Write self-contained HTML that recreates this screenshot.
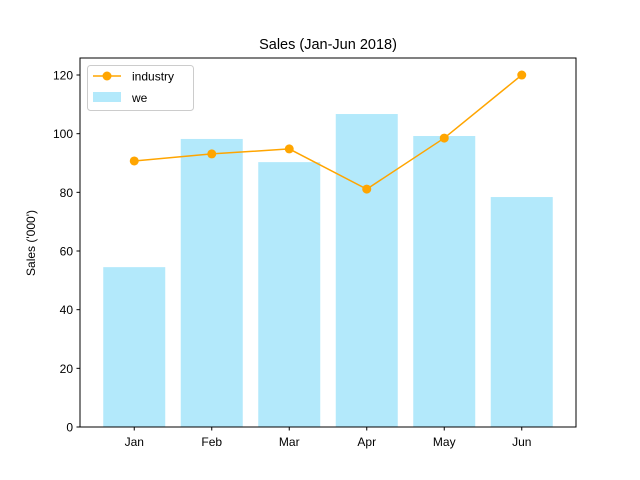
<!DOCTYPE html>
<html><head><meta charset="utf-8"><style>body{margin:0;background:#fff}svg{display:block;font-family:"Liberation Sans","DejaVu Sans",sans-serif}</style></head>
<body>
<svg id="chart" width="640" height="480">
<rect x="0" y="0" width="640" height="480" fill="#fff"/>
<text x="328" y="49" font-size="14.5" text-anchor="middle">Sales (Jan-Jun 2018)</text>
<g id="bars"></g><g id="line"></g><g id="axes"></g>
<text transform="translate(35,243) rotate(-90)" font-size="12" text-anchor="middle">Sales ('000')</text>
<g>
<rect x="87.5" y="65.5" width="106" height="45" rx="3" fill="#fff" stroke="#ccc"/>
<line x1="93" y1="76" x2="121" y2="76" stroke="orange" stroke-width="1.5"/>
<circle cx="107" cy="76" r="4.5" fill="orange"/>
<text x="132" y="80.5" font-size="12">industry</text>
<rect x="93" y="92" width="28" height="10" fill="#b3e9fb"/>
<text x="132" y="102" font-size="12">we</text>
</g>
</svg>
<script>
const categories=["Jan","Feb","Mar","Apr","May","Jun"];
const weValues=[54.5,98.2,90.3,106.7,99.2,78.4];
const industryValues=[90.7,93.1,94.8,81.1,98.5,120];
const yTicks=[0,20,40,60,80,100,120];
const L=80,R=576,T=58,B=427,yMax=125.8;
const xS=i=>L+(i+0.7)*(R-L)/6.4;
const yS=v=>B-v*(B-T)/yMax;
const ns="http://www.w3.org/2000/svg";
function mk(p,t,a){const e=document.createElementNS(ns,t);for(const k in a)e.setAttribute(k,a[k]);p.appendChild(e);return e;}
const bw=0.8*(R-L)/6.4;
const gb=document.getElementById('bars');
weValues.forEach((v,i)=>{const r=mk(gb,'rect',{x:xS(i)-bw/2,y:yS(v),width:bw,height:B-yS(v),fill:'#b3e9fb'});

});
const gl=document.getElementById('line');
const pl=mk(gl,'polyline',{points:industryValues.map((v,i)=>xS(i)+','+yS(v)).join(' '),fill:'none',stroke:'orange','stroke-width':1.5});


industryValues.forEach((v,i)=>{const c=mk(gl,'circle',{cx:xS(i),cy:yS(v),r:4.5,fill:'orange'});

});
const ga=document.getElementById('axes');
const fr=mk(ga,'rect',{x:L,y:T,width:R-L,height:B-T,fill:'none',stroke:'#000','stroke-width':1});


yTicks.forEach(t=>{const y=yS(t);mk(ga,'line',{x1:L-3.5,y1:y,x2:L,y2:y,stroke:'#000'});
const tx=mk(ga,'text',{x:L-7,y:y+4.5,'font-size':12,'text-anchor':'end'});tx.textContent=t;

});
categories.forEach((c,i)=>{const x=xS(i);mk(ga,'line',{x1:x,y1:B,x2:x,y2:B+3.5,stroke:'#000'});
const tx=mk(ga,'text',{x:x,y:B+19,'font-size':12,'text-anchor':'middle'});tx.textContent=c;

});
</script>
</body></html>
